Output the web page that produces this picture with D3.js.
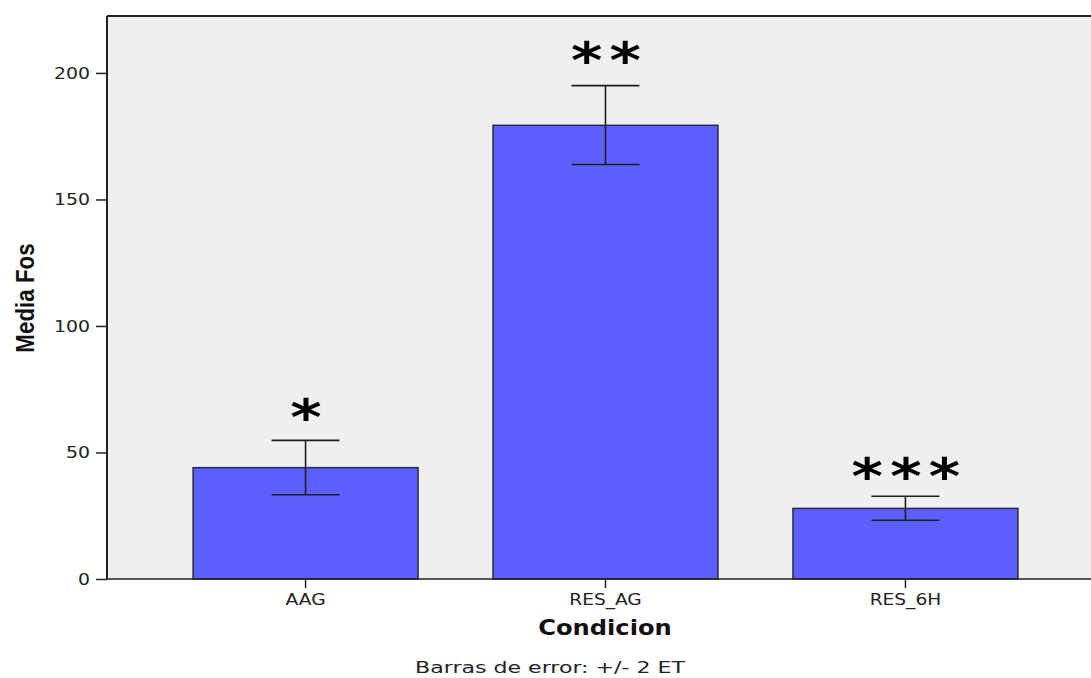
<!DOCTYPE html>
<html>
<head>
<meta charset="utf-8">
<script src="https://cdn.jsdelivr.net/npm/d3@7"></script>
<style>
  html, body { margin: 0; padding: 0; background: #ffffff; }
  svg { display: block; }
</style>
</head>
<body>
<svg id="chart" width="1091" height="678"></svg>
<script>
// ---- data ----
const categories = ["AAG", "RES_AG", "RES_6H"];
const means      = [44.0, 179.3, 27.9];
const errLow     = [33.3, 163.8, 23.2];
const errHigh    = [54.8, 195.0, 32.7];
const stars      = ["*", "**", "***"];
const yTicks     = [0, 50, 100, 150, 200];
const yTitle     = "Media Fos";
const xTitle     = "Condicion";
const footnote   = "Barras de error: +/- 2 ET";

// ---- layout ----
const W = 1091, H = 678;
const pLeft = 107, pTop = 16, pBottom = 579;
const svg = d3.select("#chart");

const y = d3.scaleLinear().domain([0, 222.5]).range([pBottom, pTop]);
const x = d3.scaleBand().domain(categories)
  .range([pLeft, 1104]).paddingInner(0.25).paddingOuter(0.287);

// plot background
svg.append("rect").attr("x", pLeft).attr("y", pTop)
  .attr("width", W - pLeft).attr("height", pBottom - pTop)
  .attr("fill", "#efefef");

// frame top
svg.append("line").attr("x1", pLeft).attr("x2", W).attr("y1", pTop).attr("y2", pTop)
  .attr("stroke", "#222").attr("stroke-width", 2);

const data = categories.map((c, i) => ({c, m: means[i], lo: errLow[i], hi: errHigh[i], s: stars[i]}));

// bars
svg.append("g").selectAll("rect").data(data).join("rect")
  .attr("x", d => x(d.c)).attr("width", x.bandwidth())
  .attr("y", d => y(d.m)).attr("height", d => y(0) - y(d.m))
  .attr("fill", "#5b5ffe").attr("stroke", "#2a2a3a").attr("stroke-width", 1.5);

// error bars
const cap = 34;
const eb = svg.append("g").attr("stroke", "#1e1e1e").attr("stroke-width", 1.6);
data.forEach(d => {
  const cx = x(d.c) + x.bandwidth() / 2;
  eb.append("line").attr("x1", cx).attr("x2", cx).attr("y1", y(d.hi)).attr("y2", y(d.lo));
  eb.append("line").attr("x1", cx - cap).attr("x2", cx + cap).attr("y1", y(d.hi)).attr("y2", y(d.hi));
  eb.append("line").attr("x1", cx - cap).attr("x2", cx + cap).attr("y1", y(d.lo)).attr("y2", y(d.lo));
});

// significance stars
svg.append("g").selectAll("g").data(data).join("g")
  .attr("transform", (d, i) => `translate(${x(d.c) + x.bandwidth() / 2 + 4},${y(d.hi) - (i === 1 ? 8 : i === 0 ? 5 : 2)}) scale(1.2,1)`)
  .append("text")
  .attr("text-anchor", "middle")
  .attr("font-family", "DejaVu Sans")
  .attr("font-weight", "bold")
  .attr("font-size", 50)
  .attr("letter-spacing", 6)
  .attr("fill", "#000")
  .text(d => d.s);

// y axis
const yAxis = svg.append("g").attr("transform", `translate(${pLeft},0)`)
  .call(d3.axisLeft(y).tickValues(yTicks).tickSize(11).tickSizeOuter(0).tickPadding(5));
yAxis.select(".domain").attr("stroke", "#222").attr("stroke-width", 2)
  .attr("d", `M0,${pBottom}V${pTop}`);
yAxis.selectAll(".tick line").attr("stroke", "#222").attr("stroke-width", 1.5);
yAxis.selectAll(".tick text")
  .attr("font-family", "DejaVu Sans").attr("font-size", 16).attr("fill", "#222")
  .attr("transform", "scale(1.18,1)")
  .attr("x", -17 / 1.18);

// x axis
const xAxis = svg.append("g").attr("transform", `translate(0,${pBottom})`)
  .call(d3.axisBottom(x).tickSize(9).tickSizeOuter(0).tickPadding(6));
xAxis.select(".domain").attr("stroke", "#222").attr("stroke-width", 1.5)
  .attr("d", `M${pLeft},0H${W}`);
xAxis.selectAll(".tick line").attr("stroke", "#222").attr("stroke-width", 1.5);
xAxis.selectAll(".tick text")
  .attr("font-family", "DejaVu Sans").attr("font-size", 15.5).attr("fill", "#222")
  .attr("transform", "scale(1.2,1)");

// titles
svg.append("text")
  .attr("transform", `translate(34,298) rotate(-90) scale(0.86,1)`)
  .attr("text-anchor", "middle")
  .attr("font-family", "Liberation Sans").attr("font-weight", "bold")
  .attr("font-size", 26).attr("fill", "#111")
  .text(yTitle);

svg.append("g").attr("transform", `translate(605,635) scale(1.18,1)`)
  .append("text").attr("text-anchor", "middle")
  .attr("font-family", "DejaVu Sans").attr("font-weight", "bold")
  .attr("font-size", 20.5).attr("fill", "#111")
  .text(xTitle);

svg.append("g").attr("transform", `translate(550,673) scale(1.38,1)`)
  .append("text").attr("text-anchor", "middle")
  .attr("font-family", "DejaVu Sans")
  .attr("font-size", 16).attr("fill", "#222")
  .text(footnote);
</script>
</body>
</html>
